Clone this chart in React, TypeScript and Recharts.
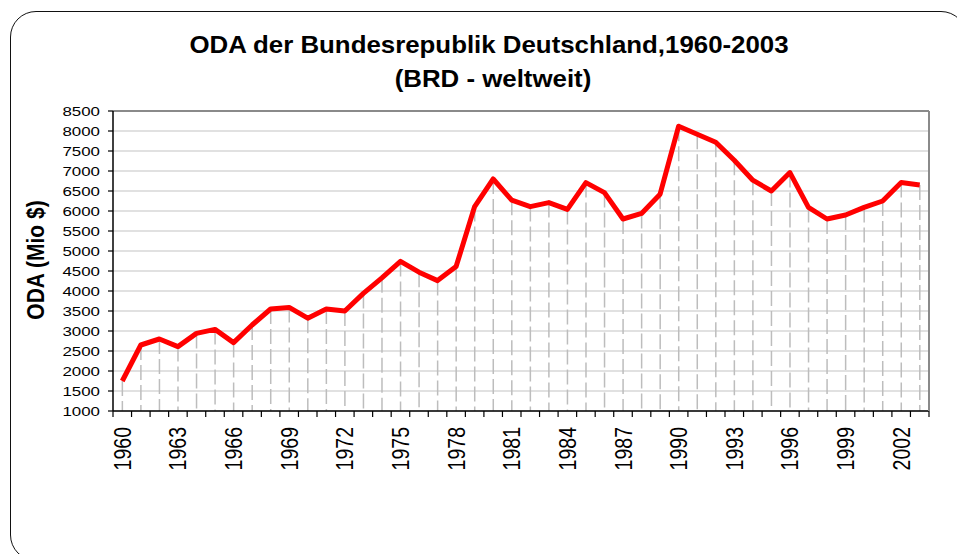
import React from "react";
import {
  ComposedChart,
  Line,
  Bar,
  XAxis,
  YAxis,
  CartesianGrid,
  ReferenceLine,
} from "recharts";

const years = [
  "1960", "1961", "1962", "1963", "1964", "1965", "1966", "1967", "1968", "1969",
  "1970", "1971", "1972", "1973", "1974", "1975", "1976", "1977", "1978", "1979",
  "1980", "1981", "1982", "1983", "1984", "1985", "1986", "1987", "1988", "1989",
  "1990", "1991", "1992", "1993", "1994", "1995", "1996", "1997", "1998", "1999",
  "2000", "2001", "2002", "2003",
];

// ODA in Mio $
const odaValues = [
  1750, 2650, 2800, 2610, 2940, 3040, 2710, 3150, 3550, 3590,
  3320, 3550, 3500, 3940, 4330, 4740, 4470, 4260, 4610, 6110,
  6800, 6270, 6110, 6210, 6040, 6710, 6460, 5800, 5940, 6420,
  8120, 7920, 7720, 7270, 6770, 6500, 6960, 6090, 5800, 5900,
  6090, 6250, 6710, 6650,
];

const yTicks = [
  1000, 1500, 2000, 2500, 3000, 3500, 4000, 4500, 5000, 5500, 6000, 6500, 7000,
  7500, 8000, 8500,
];

const data = years.map((year, i) => ({ year, oda: odaValues[i] }));

const W = 957;
const H = 554;
const LEFT = 113;
const RIGHT = 28;
const TOP = 111;
const BOTTOM = 143;
const PLOT_BOTTOM = H - BOTTOM;
const STEP = (W - LEFT - RIGHT) / years.length;
const FONT = 'Arial, "Liberation Sans", sans-serif';

const XTick = (props: any) => {
  const { x, index, payload } = props;
  const showLabel = index % 3 === 0;
  return (
    <g>
      <line
        x1={x - STEP / 2}
        x2={x - STEP / 2}
        y1={PLOT_BOTTOM}
        y2={PLOT_BOTTOM + 6}
        stroke="#000"
        strokeWidth={1.2}
      />
      {index === years.length - 1 && (
        <line
          x1={x + STEP / 2}
          x2={x + STEP / 2}
          y1={PLOT_BOTTOM}
          y2={PLOT_BOTTOM + 6}
          stroke="#000"
          strokeWidth={1.2}
        />
      )}
      {showLabel && (
        <text
          transform={`translate(${x},${PLOT_BOTTOM + 16}) rotate(-90) scale(1,1.22)`}
          textAnchor="end"
          dy="0.36em"
          fontSize={19.5}
          fontFamily={FONT}
          fill="#000"
        >
          {payload.value}
        </text>
      )}
    </g>
  );
};

const YTick = (props: any) => {
  const { x, y, payload } = props;
  return (
    <text
      transform={`translate(${x},${y}) scale(1.25,1)`}
      textAnchor="end"
      dy="0.36em"
      fontSize={13.5}
      fontFamily={FONT}
      fill="#000"
    >
      {payload.value}
    </text>
  );
};

const DropLine = (props: any) => {
  const { x, y, width, height } = props;
  if (height == null || height <= 0) return null;
  const cx = x + width / 2;
  return (
    <line
      x1={cx}
      x2={cx}
      y1={y}
      y2={y + height}
      stroke="#bdbdbd"
      strokeWidth={1.5}
      strokeDasharray="15 5"
    />
  );
};

export default function App() {
  return (
    <div
      style={{
        position: "absolute",
        left: 0,
        top: 0,
        width: W,
        height: H,
        overflow: "hidden",
        background: "#fff",
        fontFamily: FONT,
      }}
    >
      <div
        style={{
          position: "absolute",
          left: 10,
          top: 11,
          width: 955,
          height: 548,
          border: "1.5px solid #111",
          borderRadius: 26,
        }}
      />
      <ComposedChart
        width={W}
        height={H}
        data={data}
        margin={{ top: TOP, right: 0, left: 0, bottom: 0 }}
        style={{ position: "absolute", left: 0, top: 0 }}
      >
        <CartesianGrid
          yAxisId="left"
          vertical={false}
          stroke="#c4c4c4"
          strokeWidth={1.2}
        />
        <XAxis
          dataKey="year"
          interval={0}
          height={BOTTOM}
          tickLine={false}
          tick={<XTick />}
          axisLine={{ stroke: "#000", strokeWidth: 1.5 }}
        />
        <YAxis
          yAxisId="left"
          type="number"
          domain={[1000, 8500]}
          ticks={yTicks}
          interval={0}
          width={LEFT}
          tickSize={5}
          tickMargin={8}
          tick={<YTick />}
          tickLine={{ stroke: "#000", strokeWidth: 1.2 }}
          axisLine={{ stroke: "#000", strokeWidth: 1.5 }}
        />
        <YAxis
          yAxisId="right"
          orientation="right"
          type="number"
          domain={[1000, 8500]}
          width={RIGHT}
          tick={false}
          tickLine={false}
          axisLine={{ stroke: "#8a8a8a", strokeWidth: 2 }}
        />
        <ReferenceLine
          yAxisId="left"
          y={8500}
          stroke="#8a8a8a"
          strokeWidth={2}
        />
        <Bar
          yAxisId="left"
          dataKey="oda"
          shape={<DropLine />}
          isAnimationActive={false}
        />
        <Line
          yAxisId="left"
          type="linear"
          dataKey="oda"
          stroke="#ff0000"
          strokeWidth={5}
          strokeLinejoin="round"
          dot={false}
          isAnimationActive={false}
        />
      </ComposedChart>
      <svg
        width={W}
        height={H}
        style={{ position: "absolute", left: 0, top: 0, pointerEvents: "none" }}
      >
        <text
          transform="translate(489,53) scale(1.1,1)"
          textAnchor="middle"
          fontSize={23.5}
          fontWeight="bold"
          fontFamily={FONT}
          fill="#000"
        >
          ODA der Bundesrepublik Deutschland,1960-2003
        </text>
        <text
          transform="translate(493,87) scale(1.1,1)"
          textAnchor="middle"
          fontSize={23.5}
          fontWeight="bold"
          fontFamily={FONT}
          fill="#000"
        >
          (BRD - weltweit)
        </text>
        <text
          transform="translate(44,260) rotate(-90) scale(1,1.1)"
          textAnchor="middle"
          fontSize={21}
          fontWeight="bold"
          fontFamily={FONT}
          fill="#000"
        >
          ODA (Mio $)
        </text>
      </svg>
    </div>
  );
}
